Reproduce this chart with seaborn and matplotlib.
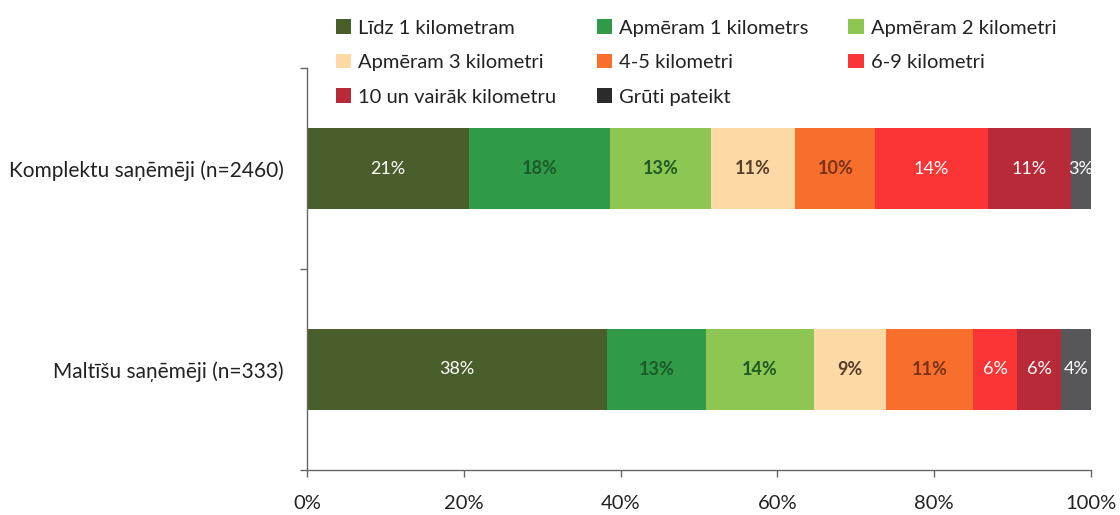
import matplotlib
matplotlib.use("Agg")
import matplotlib.pyplot as plt
from matplotlib.patches import Patch
import seaborn as sns
import numpy as np
import pandas as pd

categories = ["Komplektu saņēmēji (n=2460)", "Maltīšu saņēmēji (n=333)"]
series = ["Līdz 1 kilometram", "Apmēram 1 kilometrs", "Apmēram 2 kilometri",
          "Apmēram 3 kilometri", "4-5 kilometri", "6-9 kilometri",
          "10 un vairāk kilometru", "Grūti pateikt"]
komplektu = [20.6, 18.1, 12.8, 10.8, 10.2, 14.3, 10.6, 2.6]
maltisu = [38.3, 12.6, 13.8, 9.1, 11.2, 5.6, 5.6, 3.8]
colors = ["#4a5e2b", "#2f9a47", "#8dc652", "#fdd9a6", "#f86e2c",
          "#fb3535", "#b82a38", "#57575b"]
legend_colors = ["#4a5e2b", "#2f9a47", "#8dc652", "#fdd9a6", "#f86e2c",
                 "#fb3535", "#b82a38", "#2b2b2b"]
label_colors = ["white", "#1d5a2a", "#1f5a25", "#5a3e2a", "#7a3218",
                "white", "white", "white"]
label_bold = [False, True, True, True, True, False, False, False]
xticks = [0, 20, 40, 60, 80, 100]
xticklabels = ["0%", "20%", "40%", "60%", "80%", "100%"]

sns.set_theme(style="white")
plt.rcParams['font.family'] = ['Lato', 'DejaVu Sans']

fig = plt.figure(figsize=(11.2, 5.15), dpi=100)
ax = fig.add_axes([307/1120, 45/515, 784/1120, 402/515])

vals = np.array([komplektu, maltisu])
cum = np.cumsum(vals, axis=1)

for i in range(len(series) - 1, -1, -1):
    df = pd.DataFrame({"cat": categories, "val": cum[:, i]})
    sns.barplot(data=df, x="val", y="cat", orient="h", color=colors[i],
                width=0.4, saturation=1, ax=ax, linewidth=0)

for r in range(len(categories)):
    left = 0
    for i in range(len(series)):
        v = vals[r, i]
        ax.text(left + v / 2, r, f"{round(v)}%", ha="center", va="center",
                color=label_colors[i], fontsize=13,
                fontweight="bold" if label_bold[i] else "normal")
        left += v

ax.set_xlim(0, 100)
ax.set_ylim(1.5, -0.5)
ax.set_xticks(xticks)
ax.set_xticklabels(xticklabels, fontsize=14.5, color="#222222")
ax.set_yticks([0, 1])
ax.set_yticklabels(categories, fontsize=15, color="#222222")
ax.set_yticks([-0.5, 0.5, 1.5], minor=True)
ax.tick_params(axis="y", which="major", length=0, pad=17)
ax.tick_params(axis="y", which="minor", length=5, width=1, color="#666666", left=True)
ax.tick_params(axis="x", which="major", length=5, width=1, color="#666666", bottom=True, pad=13)
ax.set_xlabel("")
ax.set_ylabel("")
for s in ["top", "right"]:
    ax.spines[s].set_visible(False)
for s in ["left", "bottom"]:
    ax.spines[s].set_color("#666666")
    ax.spines[s].set_linewidth(1)

order = [0, 3, 6, 1, 4, 7, 2, 5]
handles = [Patch(facecolor=legend_colors[i], edgecolor="none") for i in order]
labels = [series[i] for i in order]
fig.legend(handles, labels, ncol=3, loc="upper left",
           bbox_to_anchor=(318/1120, 1 - 1/515), frameon=False,
           fontsize=14.5, handlelength=0.75, handleheight=0.75,
           handletextpad=0.35, columnspacing=2.0, labelspacing=0.85,
           labelcolor="#222222")

fig.savefig("out.png", dpi=100)
